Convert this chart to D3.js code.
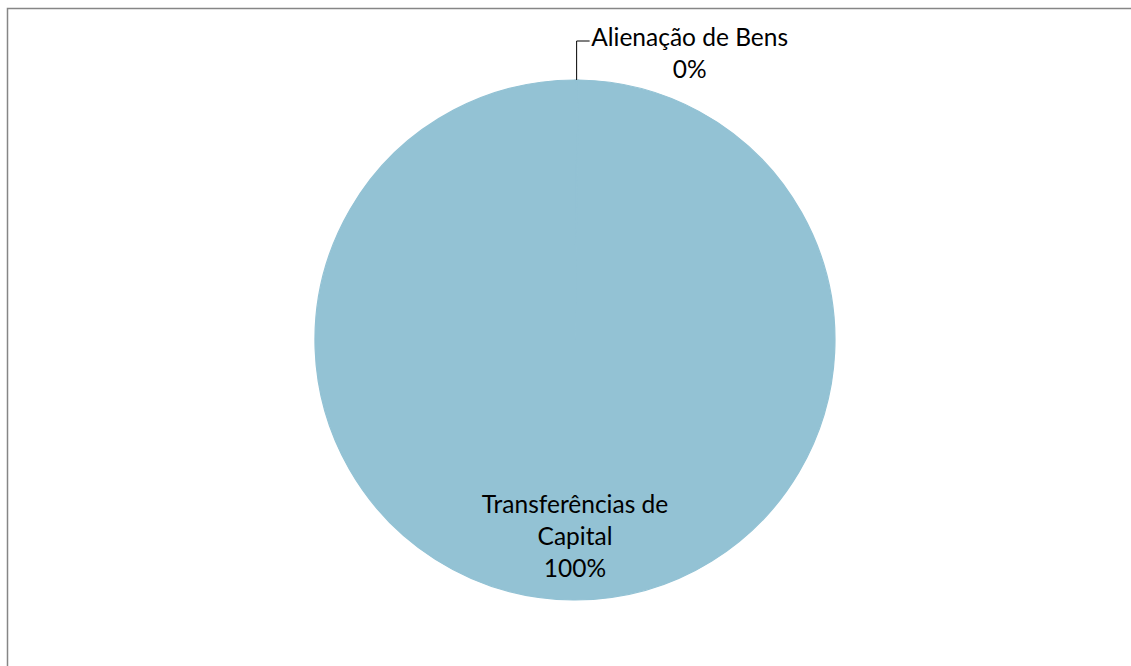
<!DOCTYPE html>
<html>
<head>
<meta charset="utf-8">
<script src="https://cdn.jsdelivr.net/npm/d3@7"></script>
<style>
  body { margin: 0; background: #fff; }
  svg text { font-family: Lato, "Open Sans", sans-serif; fill: #000; }
</style>
</head>
<body>
<svg width="1131" height="666"></svg>
<script>
// chart data
var categories = ["Alienação de Bens", "Transferências de Capital"];
var values = [0.2, 99.8];
var colors = ["#93C2D4", "#93C2D4"];

var svg = d3.select("svg"),
  width = +svg.attr("width"),
  height = +svg.attr("height");

// chart frame (right and bottom edges fall outside the window)
svg.append("rect")
  .attr("x", 7.5).attr("y", 8.5)
  .attr("width", width + 20).attr("height", height + 20)
  .attr("fill", "none")
  .attr("stroke", "#868686")
  .attr("stroke-width", 1.5);

var cx = 575, cy = 340, r = 260;
var g = svg.append("g").attr("transform", "translate(" + cx + "," + cy + ")");

var pie = d3.pie().sort(null).value(function (d) { return d; });
var arcs = pie(values);
var arc = d3.arc().innerRadius(0).outerRadius(r);

// slices; same-colour stroke hides the antialiasing seam between them
g.selectAll("path")
  .data(arcs)
  .enter().append("path")
  .attr("d", arc)
  .attr("fill", function (d, i) { return colors[i]; })
  .attr("stroke", function (d, i) { return colors[i]; })
  .attr("stroke-width", 1.2);

var pct = function (d) { return Math.round(d.value / d3.sum(values) * 100) + "%"; };

// small slice: label outside with leader line
var small = arcs[0];
var mid = (small.startAngle + small.endAngle) / 2;
var lx = r * Math.sin(mid), ly = -r * Math.cos(mid);
g.append("path")
  .attr("d", "M" + lx + "," + ly + "V" + (ly - 39) + "H" + (lx + 13))
  .attr("fill", "none")
  .attr("stroke", "#000")
  .attr("stroke-width", 1);

var outLabel = g.append("text")
  .attr("text-anchor", "middle")
  .style("font-size", "24.5px");
outLabel.append("tspan").attr("x", lx + 113).attr("y", ly - 34).text(categories[0]);
outLabel.append("tspan").attr("x", lx + 113).attr("y", ly - 2).text(pct(small));

// big slice: label inside
var big = arcs[1];
var inLabel = g.append("text")
  .attr("text-anchor", "middle")
  .style("font-size", "24.5px");
var lines = ["Transferências de", "Capital", pct(big)];
lines.forEach(function (t, i) {
  inLabel.append("tspan").attr("x", 0).attr("y", 173 + i * 32).text(t);
});
</script>
</body>
</html>
